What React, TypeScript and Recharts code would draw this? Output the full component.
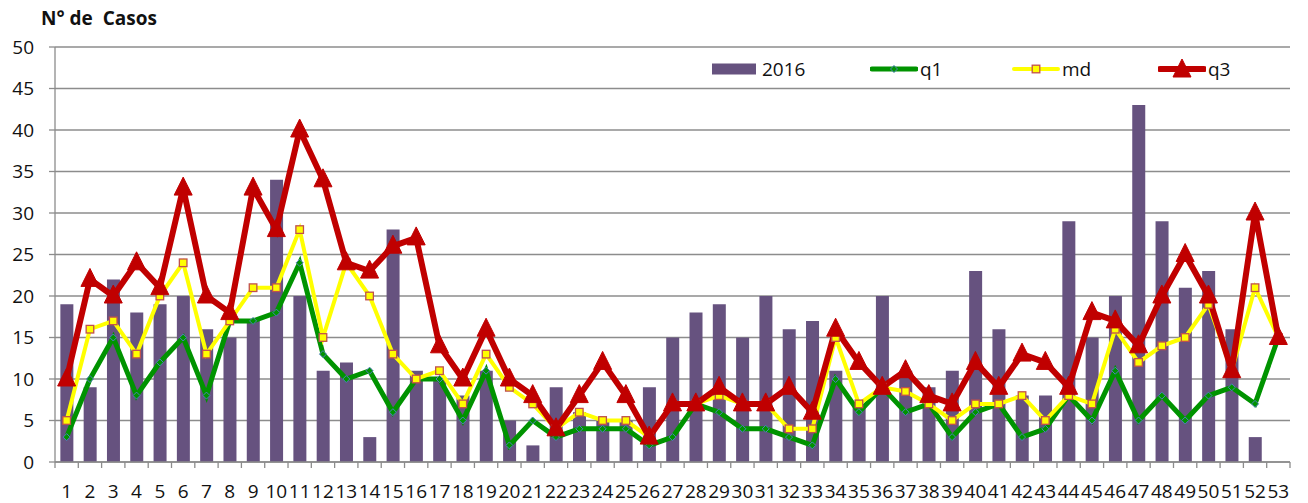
import React from "react"
import {
  ComposedChart,
  Bar,
  Line,
  XAxis,
  YAxis,
  CartesianGrid,
  Legend,
} from "recharts"

// semanas epidemiológicas
const WEEKS = [
  "1", "2", "3", "4", "5", "6", "7", "8", "9", "10",
  "11", "12", "13", "14", "15", "16", "17", "18", "19", "20",
  "21", "22", "23", "24", "25", "26", "27", "28", "29", "30",
  "31", "32", "33", "34", "35", "36", "37", "38", "39", "40",
  "41", "42", "43", "44", "45", "46", "47", "48", "49", "50",
  "51", "52", "53",
]

const CASES_2016 = [
  19, 9, 22, 18, 19, 20, 16, 15, 17, 34,
  20, 11, 12, 3, 28, 11, 10, 8, 11, 5,
  2, 9, 6, 5, 5, 9, 15, 18, 19, 15,
  20, 16, 17, 11, 7, 20, 11, 9, 11, 23,
  16, 8, 8, 29, 15, 20, 43, 29, 21, 23,
  16, 3, null,
]

const Q1 = [
  3, 10, 15, 8, 12, 15, 8, 17, 17, 18,
  24, 13, 10, 11, 6, 10, 10, 5, 11, 2,
  5, 3, 4, 4, 4, 2, 3, 7, 6, 4,
  4, 3, 2, 10, 6, 9, 6, 7, 3, 6,
  7, 3, 4, 8, 5, 11, 5, 8, 5, 8,
  9, 7, 15,
]

const MD = [
  5, 16, 17, 13, 20, 24, 13, 17, 21, 21,
  28, 15, 24, 20, 13, 10, 11, 7, 13, 9,
  7, 4, 6, 5, 5, 3, 7, 7, 8, 7,
  7, 4, 4, 15, 7, 9, 8.5, 7, 5, 7,
  7, 8, 5, 8, 7, 16, 12, 14, 15, 19,
  11, 21, 15,
]

const Q3 = [
  10, 22, 20, 24, 21, 33, 20, 18, 33, 28,
  40, 34, 24, 23, 26, 27, 14, 10, 16, 10,
  8, 4, 8, 12, 8, 3, 7, 7, 9, 7,
  7, 9, 6, 16, 12, 9, 11, 8, 7, 12,
  9, 13, 12, 9, 18, 17, 14, 20, 25, 20,
  11, 30, 15,
]

const Y_TICKS = [0, 5, 10, 15, 20, 25, 30, 35, 40, 45, 50]

const BAR_COLOR = "#66527f"
const Q1_COLOR = "#009300"
const MD_COLOR = "#ffff00"
const Q3_COLOR = "#c00000"
const GRID_COLOR = "#8c8c8c"
const FONT = "'Open Sans', 'Noto Sans', sans-serif"

const data = WEEKS.map((w, i) => ({
  week: w,
  y2016: CASES_2016[i],
  q1: Q1[i],
  md: MD[i],
  q3: Q3[i],
}))

function DiamondDot(props: any) {
  const { cx, cy, index } = props
  if (cx == null || cy == null) return null
  const r = 3.5
  return (
    <path
      key={`d-${index}`}
      d={`M${cx},${cy - r}L${cx + r},${cy}L${cx},${cy + r}L${cx - r},${cy}Z`}
      fill={Q1_COLOR}
      stroke="#4f81bd"
      strokeWidth={1}
    />
  )
}

function SquareDot(props: any) {
  const { cx, cy, index } = props
  if (cx == null || cy == null) return null
  const s = 3.8
  return (
    <rect
      key={`s-${index}`}
      x={cx - s}
      y={cy - s}
      width={s * 2}
      height={s * 2}
      fill={MD_COLOR}
      stroke="#c0504d"
      strokeWidth={1.3}
    />
  )
}

function TriangleDot(props: any) {
  const { cx, cy, index } = props
  if (cx == null || cy == null) return null
  return (
    <path
      key={`t-${index}`}
      d={`M${cx},${cy - 11}L${cx + 9},${cy + 7}L${cx - 9},${cy + 7}Z`}
      fill={Q3_COLOR}
      stroke={Q3_COLOR}
      strokeWidth={1}
    />
  )
}

function WeekTick(props: any) {
  const { x, y, payload, index, width } = props
  const band = width / WEEKS.length
  const left = x - band / 2
  return (
    <g>
      <line x1={left} x2={left} y1={y - 6} y2={y} stroke={GRID_COLOR} strokeWidth={1.3} />
      {index === WEEKS.length - 1 && (
        <line x1={x + band / 2} x2={x + band / 2} y1={y - 6} y2={y} stroke={GRID_COLOR} strokeWidth={1.3} />
      )}
      <text
        x={x}
        y={y + 30}
        textAnchor="middle"
        fill="#111"
        style={{ fontSize: 19, fontFamily: FONT }}
      >
        {payload.value}
      </text>
    </g>
  )
}

function LegendIcon({ kind }: { kind: string }) {
  if (kind === "bar") {
    return (
      <svg width={44} height={12} style={{ display: "block" }}>
        <rect x={0} y={0.5} width={44} height={11} fill={BAR_COLOR} />
      </svg>
    )
  }
  const color = kind === "q1" ? Q1_COLOR : kind === "md" ? MD_COLOR : Q3_COLOR
  const sw = kind === "q3" ? 6 : kind === "q1" ? 5 : 4
  return (
    <svg width={48} height={22} style={{ display: "block" }}>
      <line x1={2} x2={46} y1={11} y2={11} stroke={color} strokeWidth={sw} strokeLinecap="round" />
      {kind === "q1" && <DiamondDot cx={24} cy={11} index={0} />}
      {kind === "md" && <SquareDot cx={24} cy={11} index={0} />}
      {kind === "q3" && <TriangleDot cx={24} cy={12} index={0} />}
    </svg>
  )
}

const LEGEND_ITEMS = [
  { kind: "bar", label: "2016", left: 704, gap: 6 },
  { kind: "q1", label: "q1", left: 862, gap: 2 },
  { kind: "md", label: "md", left: 1004, gap: 2 },
  { kind: "q3", label: "q3", left: 1150, gap: 2 },
]

function renderLegend() {
  return (
    <div style={{ position: "relative", width: 1292, height: 0 }}>
      {LEGEND_ITEMS.map((it) => (
        <div
          key={it.label}
          style={{
            position: "absolute",
            left: it.left,
            top: 48,
            height: 26,
            display: "flex",
            alignItems: "center",
            gap: it.gap,
            fontFamily: FONT,
            fontSize: 19,
            color: "#111",
          }}
        >
          <LegendIcon kind={it.kind} />
          <span>{it.label}</span>
        </div>
      ))}
    </div>
  )
}

export default function App() {
  return (
    <div style={{ position: "relative", width: 1292, height: 495, background: "#fff" }}>
      <div
        style={{
          position: "absolute",
          left: 33,
          top: -3,
          fontFamily: FONT,
          fontWeight: 700,
          fontSize: 19,
          whiteSpace: "pre",
          color: "#111",
        }}
      >
        {"N° de  Casos"}
      </div>
      <ComposedChart
        width={1292}
        height={495}
        data={data}
        margin={{ top: 39, right: 10, bottom: 0, left: 0 }}
        barCategoryGap="23%"
      >
        <CartesianGrid vertical={false} stroke={GRID_COLOR} strokeWidth={1.3} />
        <XAxis
          dataKey="week"
          interval={0}
          height={41}
          tickSize={6}
          tickMargin={0}
          tickLine={false}
          axisLine={{ stroke: GRID_COLOR, strokeWidth: 1.3 }}
          tick={<WeekTick />}
        />
        <YAxis
          domain={[0, 50]}
          ticks={Y_TICKS}
          interval={0}
          width={47}
          tickSize={6}
          tickMargin={15}
          tickLine={{ stroke: GRID_COLOR, strokeWidth: 1.3 }}
          axisLine={{ stroke: GRID_COLOR, strokeWidth: 1.3 }}
          tick={{ fontSize: 19, fill: "#111", fontFamily: FONT }}
        />
        <Legend
          verticalAlign="top"
          layout="horizontal"
          content={renderLegend}
          wrapperStyle={{ left: 0, top: 0, width: 1292, height: 0 }}
        />
        <Bar dataKey="y2016" name="2016" fill={BAR_COLOR} isAnimationActive={false} />
        <Line
          dataKey="q1"
          name="q1"
          stroke={Q1_COLOR}
          strokeWidth={5}
          dot={DiamondDot}
          activeDot={false}
          isAnimationActive={false}
        />
        <Line
          dataKey="md"
          name="md"
          stroke={MD_COLOR}
          strokeWidth={4}
          dot={SquareDot}
          activeDot={false}
          isAnimationActive={false}
        />
        <Line
          dataKey="q3"
          name="q3"
          stroke={Q3_COLOR}
          strokeWidth={6}
          dot={TriangleDot}
          activeDot={false}
          isAnimationActive={false}
        />
      </ComposedChart>
    </div>
  )
}
